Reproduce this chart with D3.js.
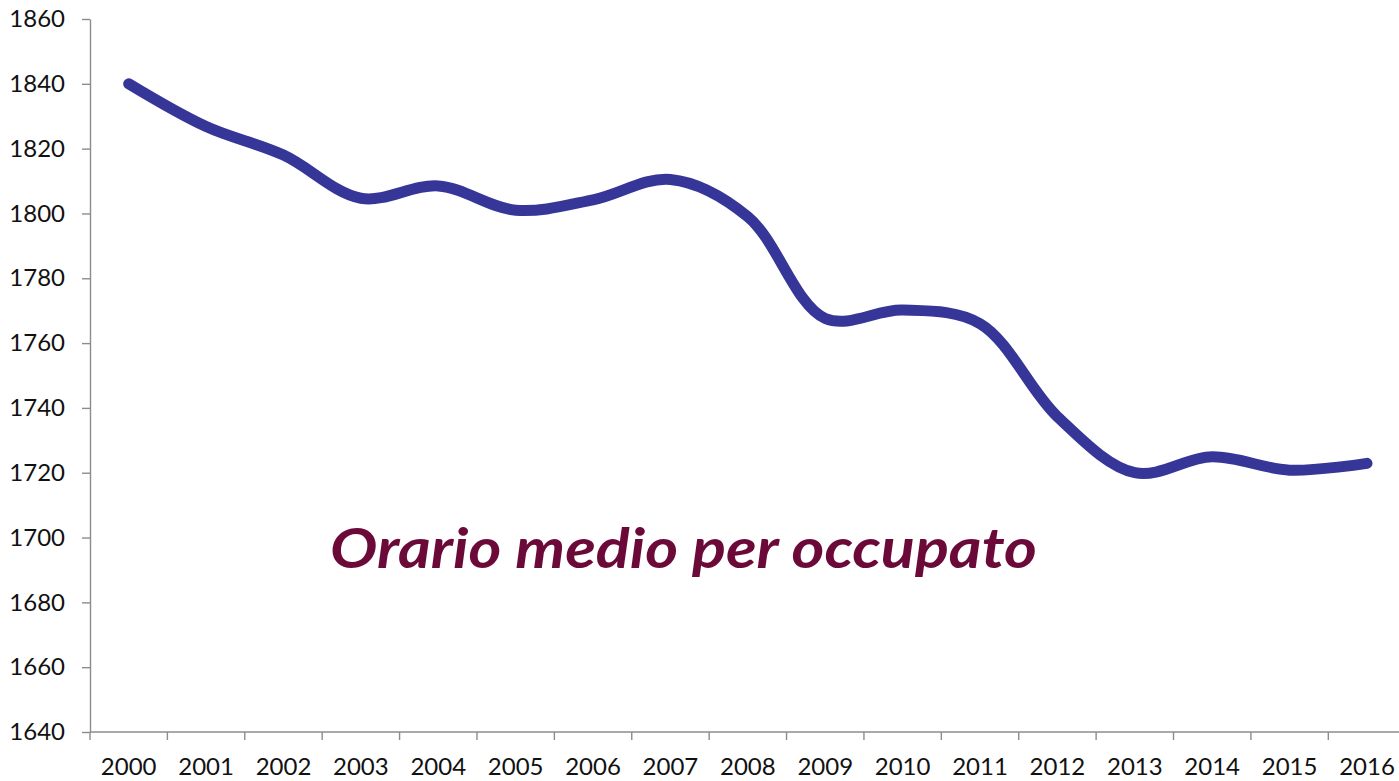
<!DOCTYPE html>
<html>
<head>
<meta charset="utf-8">
<script src="https://cdn.jsdelivr.net/npm/d3@7"></script>
<style>
  html, body { margin: 0; padding: 0; background: #fff; }
  svg { display: block; }
</style>
</head>
<body>
<svg id="chart" width="1399" height="781"></svg>
<script>
const years = ["2000","2001","2002","2003","2004","2005","2006","2007","2008","2009","2010","2011","2012","2013","2014","2015","2016"];
const hours = [1840, 1826.8, 1818, 1804.7, 1808.5, 1801, 1804.2, 1810.5, 1799, 1767.6, 1770.2, 1766, 1737.3, 1720, 1724.9, 1720.8, 1722.9];
const yTicks = [1640, 1660, 1680, 1700, 1720, 1740, 1760, 1780, 1800, 1820, 1840, 1860];
const title = "Orario medio per occupato";

(function () {
const svg = d3.select("#chart");
const mLeft = 90, mRight = 1405.7, mTop = 19, mBottom = 732;
const font = "Lato, 'Open Sans', sans-serif";
const axisColor = "#8c8c8c";

const x = d3.scaleBand().domain(years).range([mLeft, mRight]).paddingInner(0).paddingOuter(0);
const y = d3.scaleLinear().domain([1640, 1860]).range([mBottom, mTop]);

// Y axis
const yAxis = svg.append("g").attr("transform", `translate(${mLeft},0)`)
  .call(d3.axisLeft(y).tickValues(yTicks).tickFormat(d3.format("d")).tickSize(8).tickSizeOuter(0).tickPadding(17));
yAxis.select(".domain").attr("stroke", axisColor).attr("stroke-width", 1.4);
yAxis.selectAll(".tick line").attr("stroke", axisColor).attr("stroke-width", 1.4);
yAxis.selectAll(".tick text").attr("font-family", font).attr("font-size", 24).attr("fill", "#111");

// X axis with ticks between categories
const xAxisG = svg.append("g").attr("transform", `translate(0,${mBottom})`);
xAxisG.append("line").attr("x1", mLeft).attr("x2", mRight).attr("stroke", axisColor).attr("stroke-width", 1.4);
const bounds = years.map(d => x(d)).concat([x(years[years.length-1]) + x.bandwidth()]);
xAxisG.selectAll("line.tk").data(bounds).join("line").attr("class","tk")
  .attr("x1", d => d).attr("x2", d => d).attr("y1", 0).attr("y2", 8)
  .attr("stroke", axisColor).attr("stroke-width", 1.4);
xAxisG.selectAll("text").data(years).join("text")
  .attr("x", d => x(d) + x.bandwidth()/2).attr("y", 43)
  .attr("text-anchor", "middle").attr("font-family", font).attr("font-size", 24).attr("fill", "#111")
  .text(d => d);

// Line
const line = d3.line()
  .x((d, i) => x(years[i]) + x.bandwidth()/2)
  .y(d => y(d))
  .curve(d3.curveCatmullRom.alpha(0.5));
svg.append("path").datum(hours)
  .attr("d", line).attr("fill", "none")
  .attr("stroke", "#363699").attr("stroke-width", 11)
  .attr("stroke-linecap", "round").attr("stroke-linejoin", "round");

// Title
svg.append("text").attr("x", 330).attr("y", 568)
  .attr("font-family", font).attr("font-style", "italic").attr("font-weight", "bold")
  .attr("font-size", 56).attr("fill", "#6b0a38")
  .attr("textLength", 707).attr("lengthAdjust", "spacingAndGlyphs")
  .text(title);
})();
</script>
</body>
</html>
